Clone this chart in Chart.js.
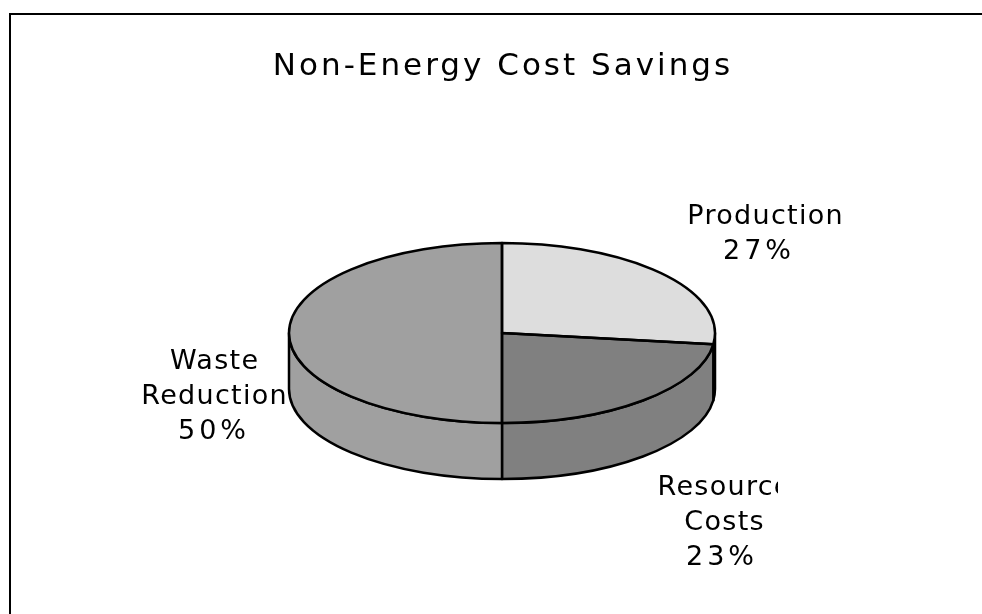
<!DOCTYPE html>
<html>
<head>
<meta charset="utf-8">
<script src="https://cdn.jsdelivr.net/npm/chart.js@4.4.0/dist/chart.umd.min.js"></script>
<style>
html, body { margin: 0; padding: 0; background: #fff; }
#wrap { position: absolute; left: 0; top: 0; width: 982px; height: 614px; }
</style>
</head>
<body>
<div id="wrap"><canvas id="pie" width="982" height="614"></canvas></div>
<script>
var chartTitle = 'Non-Energy Cost Savings';
var categories = ['Production', 'Resource Costs', 'Waste Reduction'];
var shares = [27, 23, 50];
var sliceColors = ['#dddddd', '#808080', '#a0a0a0'];

// label blocks: centre x, first baseline y, right clip edge (Excel cuts "Resource"),
// nudge of the percent line
var labelSpots = [[765, 224, null, -8], [724, 495, 778, -4], [214, 369, null, -2]];

var tilt = 90 / 213;   // ellipse height / width
var depth = 56;        // thickness of the pie
var labelFont = '27px "DejaVu Sans"';
var lineStep = 35;
var edgeWidth = 2.5;

// pieces of an arc that face the viewer (canvas angles 0..PI)
function frontParts(a, b) {
	var out = [];
	[0, 2 * Math.PI].forEach(function (off) {
		var s = Math.max(a, off), e = Math.min(b, off + Math.PI);
		if (e > s) out.push([s, e]);
	});
	return out;
}

function drawLabels(ctx) {
	ctx.save();
	ctx.font = labelFont;
	ctx.fillStyle = '#000';
	ctx.textAlign = 'center';
	ctx.textBaseline = 'alphabetic';
	categories.forEach(function (name, i) {
		var spot = labelSpots[i];
		var words = name.split(' ');
		var lines = words.concat([shares[i] + '%']);
		ctx.save();
		if (spot[2]) {
			ctx.beginPath();
			ctx.rect(0, 0, spot[2], 614);
			ctx.clip();
		}
		lines.forEach(function (t, k) {
			var isPct = k >= words.length;
			var sp = isPct ? 4 : 1.3;
			ctx.letterSpacing = sp + 'px';
			ctx.fillText(t, spot[0] + sp / 2 + (isPct ? spot[3] : 0), spot[1] + k * lineStep);
		});
		ctx.restore();
	});
	ctx.restore();
}

var pie3d = {
	id: 'pie3d',
	beforeDatasetsDraw: function (chart) {
		var ctx = chart.ctx;
		var arcs = chart.getDatasetMeta(0).data;
		drawLabels(ctx);

		// side walls
		ctx.save();
		ctx.lineWidth = edgeWidth;
		ctx.strokeStyle = '#000';
		ctx.lineJoin = 'round';
		arcs.forEach(function (arc, i) {
			var p = arc.getProps(['x', 'y', 'startAngle', 'endAngle', 'outerRadius'], true);
			var rx = p.outerRadius, ry = rx * tilt;
			frontParts(p.startAngle, p.endAngle).forEach(function (seg) {
				ctx.beginPath();
				ctx.ellipse(p.x, p.y, rx, ry, 0, seg[0], seg[1]);
				ctx.ellipse(p.x, p.y + depth, rx, ry, 0, seg[1], seg[0], true);
				ctx.closePath();
				ctx.fillStyle = sliceColors[i];
				ctx.fill();
				ctx.stroke();
			});
		});
		ctx.restore();

		// squash the round pie into the top face
		var c = arcs[0];
		ctx.save();
		ctx.translate(c.x, c.y);
		ctx.scale(1, tilt);
		ctx.translate(-c.x, -c.y);
	},
	afterDatasetsDraw: function (chart) {
		var ctx = chart.ctx;
		ctx.restore();
		var arcs = chart.getDatasetMeta(0).data;
		ctx.save();
		ctx.lineWidth = edgeWidth;
		ctx.strokeStyle = '#000';
		ctx.lineJoin = 'round';
		arcs.forEach(function (arc) {
			var p = arc.getProps(['x', 'y', 'startAngle', 'endAngle', 'outerRadius'], true);
			ctx.beginPath();
			ctx.moveTo(p.x, p.y);
			ctx.ellipse(p.x, p.y, p.outerRadius, p.outerRadius * tilt, 0, p.startAngle, p.endAngle);
			ctx.closePath();
			ctx.stroke();
		});
		ctx.restore();
	},
	afterDraw: function (chart) {
		var ctx = chart.ctx;
		ctx.save();
		// frame
		ctx.lineWidth = 2;
		ctx.strokeStyle = '#000';
		ctx.strokeRect(10, 14, 1000, 700);
		// title
		ctx.font = '31px "DejaVu Sans"';
		ctx.letterSpacing = '3px';
		ctx.fillStyle = '#000';
		ctx.textAlign = 'center';
		ctx.fillText(chartTitle, 503, 75);
		ctx.restore();
	}
};

new Chart(document.getElementById('pie'), {
	type: 'pie',
	data: {
		labels: categories,
		datasets: [{
			data: shares,
			backgroundColor: sliceColors,
			borderWidth: 0
		}]
	},
	options: {
		responsive: false,
		animation: false,
		events: [],
		layout: { padding: { left: 289, top: 120, right: 267, bottom: 68 } },
		plugins: {
			legend: { display: false },
			tooltip: { enabled: false },
			title: { display: false }
		}
	},
	plugins: [pie3d]
});
</script>
</body>
</html>
